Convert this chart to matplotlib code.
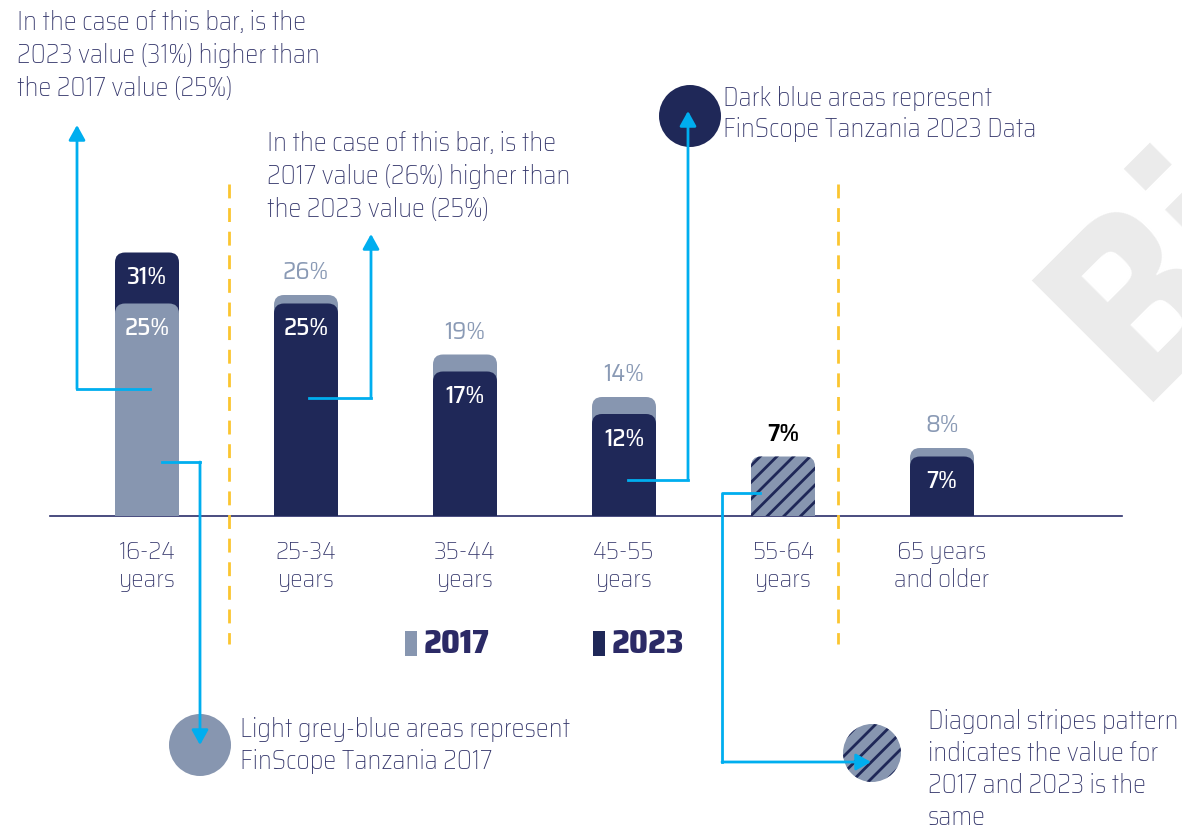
import matplotlib
matplotlib.use('Agg')
import matplotlib.pyplot as plt
from matplotlib.patches import FancyBboxPatch, Rectangle, Circle

# ---------------------------------------------------------------
# data
# ---------------------------------------------------------------
age_groups = ['16-24\nyears', '25-34\nyears', '35-44\nyears',
              '45-55\nyears', '55-64\nyears', '65 years\nand older']
values_2017 = [25, 26, 19, 14, 7, 8]
values_2023 = [31, 25, 17, 12, 7, 7]
legend_years = ['2017', '2023']

LIGHT = '#8796b0'
DARK = '#1f2858'
CYAN = '#00aeef'
YELLOW = '#fbc530'
TEXT = '#34366b'
GREY_LABEL = '#8a9ab5'

plt.rcParams['font.family'] = ['Saira SemiCondensed', 'DejaVu Sans']
plt.rcParams['hatch.linewidth'] = 2.0

W, H = 1182, 829
fig = plt.figure(figsize=(W / 100, H / 100), dpi=100)

# ---------------------------------------------------------------
# bar axes (pixel layout of the reference)
# ---------------------------------------------------------------
left_px, right_px, base_px = 50, 1122, 517
px_per_pct = 8.5
ymax = 40
step, first = 159, 147
ax = fig.add_axes([left_px / W, (H - base_px) / H,
                   (right_px - left_px) / W, ymax * px_per_pct / H])
ax.set_xlim((left_px - first) / step, (right_px - first) / step)
ax.set_ylim(0, ymax)
ax.axis('off')
ax.axhline(0, color='#2a2d6a', lw=1.2, clip_on=False)

bw = 64 / step
rad = 10 / step
asp = step / px_per_pct


def rounded_bar(x, h, color, hatch=None, z=2):
    ec = DARK if hatch else 'none'
    ax.add_patch(FancyBboxPatch((x - bw / 2, 0), bw, h,
                                boxstyle=f'round,pad=0,rounding_size={rad}',
                                mutation_aspect=asp, fc=color, ec=ec, lw=0,
                                hatch=hatch, zorder=z))
    ax.add_patch(Rectangle((x - bw / 2, 0), bw, h / 2, fc=color, ec=ec,
                           lw=0, hatch=hatch, zorder=z))


def inside_label(x, h, s):
    ax.annotate(s, (x, h), xytext=(0, -17), textcoords='offset points',
                ha='center', va='center', color='white', fontsize=18,
                fontweight='medium', zorder=5)


def above_label(x, h, s, color, weight='normal'):
    ax.annotate(s, (x, h), xytext=(0, 17), textcoords='offset points',
                ha='center', va='center', color=color, fontsize=18,
                fontweight=weight, zorder=5)


for i, (v17, v23) in enumerate(zip(values_2017, values_2023)):
    if v23 > v17:
        rounded_bar(i, v23, DARK, z=2)
        rounded_bar(i, v17, LIGHT, z=3)
        inside_label(i, v23, f'{v23}%')
        inside_label(i, v17, f'{v17}%')
    elif v17 > v23:
        rounded_bar(i, v17, LIGHT, z=2)
        rounded_bar(i, v23, DARK, z=3)
        above_label(i, v17, f'{v17}%', GREY_LABEL)
        inside_label(i, v23, f'{v23}%')
    else:
        rounded_bar(i, v17, LIGHT, hatch='//', z=2)
        above_label(i, v17, f'{v17}%', 'black', weight='semibold')
    ax.annotate(age_groups[i], (i, 0), xytext=(0, -35),
                textcoords='offset points', ha='center', va='center',
                color=TEXT, fontsize=18, fontweight='light',
                linespacing=1.22)

# ---------------------------------------------------------------
# overlay for the explanatory notes
# ---------------------------------------------------------------
ov = fig.add_axes([0, 0, 1, 1], zorder=3)
ov.set_xlim(0, W)
ov.set_ylim(H, 0)
ov.axis('off')

# watermark
ov.text(1138, 402, 'Bi', rotation=45, rotation_mode='anchor', ha='left',
        va='baseline', fontsize=180, fontweight='bold', color='#ebebeb',
        zorder=0)

# yellow separators
for xd in (229, 838):
    ov.plot([xd, xd], [185, 645], color=YELLOW, lw=2, dashes=(5, 3.5), zorder=1)


def note(x, y0, lines, dy=33, size=18.7):
    for k, line in enumerate(lines):
        ov.text(x, y0 + k * dy, line, ha='left', va='center', color=TEXT,
                fontsize=size, fontweight='light', zorder=4)


def elbow_arrow(pts):
    xs, ys = zip(*pts)
    ov.plot(xs[:-1], ys[:-1], color=CYAN, lw=2, zorder=3)
    ov.annotate('', xy=pts[-1], xytext=pts[-2],
                arrowprops=dict(arrowstyle='-|>,head_length=0.9,head_width=0.5',
                                color=CYAN, lw=2, shrinkA=0, shrinkB=0),
                zorder=3)


note(17, 22, ['In the case of this bar, is the',
              '2023 value (31%) higher than',
              'the 2017 value (25%)'])
note(267, 143, ['In the case of this bar, is the',
                '2017 value (26%) higher than',
                'the 2023 value (25%)'])
note(723, 98, ['Dark blue areas represent',
               'FinScope Tanzania 2023 Data'], dy=31)
note(240, 730, ['Light grey-blue areas represent',
                'FinScope Tanzania 2017'], dy=32)
note(928, 721, ['Diagonal stripes pattern',
                'indicates the value for',
                '2017 and 2023 is the',
                'same'], dy=32.3)

ov.add_patch(Circle((690, 117), 31, fc=DARK, ec='none', zorder=2))
ov.add_patch(Circle((200, 746), 31, fc=LIGHT, ec='none', zorder=2))
ov.add_patch(Circle((872, 754), 29, fc=LIGHT, ec=DARK, lw=0, hatch='//', zorder=2))

elbow_arrow([(150, 390), (77, 390), (77, 126)])
elbow_arrow([(309, 399), (371, 399), (371, 235)])
elbow_arrow([(628, 481), (688, 481), (688, 112)])
elbow_arrow([(162, 463), (200, 463), (200, 746)])
elbow_arrow([(760, 494), (722, 494), (722, 763), (871, 763)])

# legend
for xs, year, col in [(405, legend_years[0], LIGHT), (593, legend_years[1], DARK)]:
    ov.add_patch(Rectangle((xs, 632), 12, 25, fc=col, ec='none', zorder=2))
    ov.text(xs + 19, 644, year, ha='left', va='center', color='#2b2a66',
            fontsize=24, fontweight='heavy', zorder=4)

fig.savefig('out.png', dpi=100)
